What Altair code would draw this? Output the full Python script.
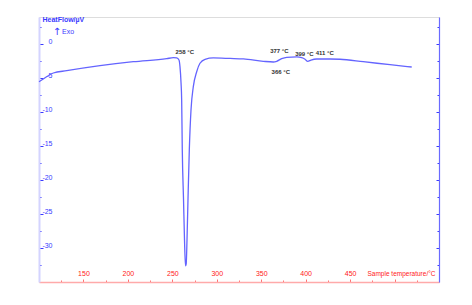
import altair as alt
import pandas as pd

# Sample temperature (°C) and heat flow (µV)
temps = [100, 104.8, 110.5, 116.1, 131.2, 168.6, 206.1, 243.7, 251.1, 254.9, 257.5, 258.6,
         259.8, 260.5, 261.2, 262.6, 263.7, 264.8, 265.6, 266.5, 267.6, 269.1, 271.0, 273.6,
         277.4, 281.1, 286.8, 296.1, 315.0, 330.0, 352.4, 363.6, 367.4, 373.0, 378.7, 389.9,
         395.5, 399.3, 402.3, 406.0, 412.4, 427.4, 438.6, 464.8, 494.9, 519.3]
heatflow = [-5.52, -5.12, -4.64, -4.24, -3.90, -3.16, -2.58, -2.13, -1.99, -2.03, -2.33, -3.31,
            -5.71, -8.21, -15.57, -22.93, -28.82, -32.64, -32.35, -28.82, -22.93, -15.57, -9.68, -6.25,
            -4.05, -2.81, -2.22, -2.03, -2.10, -2.17, -2.52, -2.62, -2.52, -2.13, -1.93, -1.88,
            -1.99, -2.22, -2.52, -2.33, -2.18, -2.18, -2.22, -2.58, -3.02, -3.36]

# Peak annotations
ann_text = ["258 °C", "377 °C", "399 °C", "411 °C", "366 °C"]
ann_t = [264, 370.4, 398.5, 421.5, 372]
ann_v = [-1.18, -1.03, -1.47, -1.32, -4.12]

x_ticks = [125, 150, 175, 200, 225, 250, 275, 300, 325, 350, 375, 400, 425, 450, 475, 500, 525]
y_ticks = [2.5, 0, -2.5, -5, -7.5, -10, -12.5, -15, -17.5, -20, -22.5, -25, -27.5, -30, -32.5]

df = pd.DataFrame({"T": temps, "HF": heatflow})
ann = pd.DataFrame({"label": ann_text, "T": ann_t, "HF": ann_v})

W, H = 400, 265
FONT = "Liberation Sans"
BLUE = "#3a3aff"
RED = "#ff2020"

xscale = alt.Scale(domain=[100, 550], nice=False, zero=False)
yscale = alt.Scale(domain=[-35, 4], nice=False, zero=False)

xaxis = alt.Axis(
    orient="top", offset=-H, values=x_ticks, grid=False,
    domainColor="#ffaaaa", domainWidth=1.6,
    tickColor="#ff7070", tickSize={"condition": {"test": "datum.value % 50 === 0", "value": 3}, "value": 2},
    labelColor=RED, labelFont=FONT, labelFontSize=7,
    labelExpr="datum.value % 50 === 0 && datum.value <= 450 ? toString(datum.value) : ''",
    labelPadding=3,
    title="Sample temperature/°C", titleColor=RED, titleFont=FONT, titleFontSize=6.5,
    titleFontWeight="normal", titleAlign="right", titleAnchor="end", titleX=W - 4, titleY=-6,
    titleBaseline="bottom",
)

yaxis_left = alt.Axis(
    orient="right", offset=-W, values=y_ticks, grid=False,
    domainColor="#d4d4ff", domainWidth=2,
    tickColor=BLUE, tickSize={"condition": {"test": "datum.value % 5 === 0", "value": 4}, "value": 2},
    labelColor=BLUE, labelFont=FONT, labelFontSize=7, labelAlign="right",
    labelBaseline="bottom", labelPadding=9,
    labelExpr="datum.value % 5 === 0 ? toString(datum.value) : ''",
    title="HeatFlow/µV", titleColor=BLUE, titleFont=FONT, titleFontSize=7,
    titleFontWeight="bold", titleAngle=0, titleAlign="left", titleBaseline="middle",
    titleX=3, titleY=2,
)

yaxis_right = alt.Axis(
    orient="left", offset=-W, values=y_ticks, grid=False,
    domainColor="#6a6aff", domainWidth=1.2,
    tickColor=BLUE, tickSize={"condition": {"test": "datum.value % 5 === 0", "value": 3}, "value": 2},
    labels=False, title=None,
)

line = alt.Chart(df).mark_line(color="#6464ff", strokeWidth=1.3, interpolate="monotone").encode(
    x=alt.X("T:Q", scale=xscale, axis=xaxis),
    y=alt.Y("HF:Q", scale=yscale, axis=yaxis_left),
    order="T:Q",
)

labels = alt.Chart(ann).mark_text(font=FONT, fontSize=6, fontWeight="bold", color="#333333").encode(
    x=alt.X("T:Q", scale=xscale, axis=xaxis),
    y=alt.Y("HF:Q", scale=yscale, axis=yaxis_right),
    text="label:N",
)

arrow = alt.Chart(pd.DataFrame({"t": ["↑"]})).mark_text(
    font="DejaVu Sans", fontSize=10, color=BLUE, align="center", baseline="middle"
).encode(x=alt.value(18), y=alt.value(15), text="t:N")

exo = alt.Chart(pd.DataFrame({"t": ["Exo"]})).mark_text(
    font=FONT, fontSize=7, color=BLUE, align="left", baseline="middle"
).encode(x=alt.value(23), y=alt.value(15), text="t:N")

chart = alt.layer(line, labels, arrow, exo).resolve_axis(y="independent").properties(
    width=W, height=H, autosize=alt.AutoSizeParams(type="none"),
    padding={"left": 31, "top": 9, "right": 25, "bottom": 15},
).configure_view(stroke="transparent", strokeWidth=0).configure(background="white")

chart.save("out.html", embed_options={"renderer": "svg", "actions": False})
